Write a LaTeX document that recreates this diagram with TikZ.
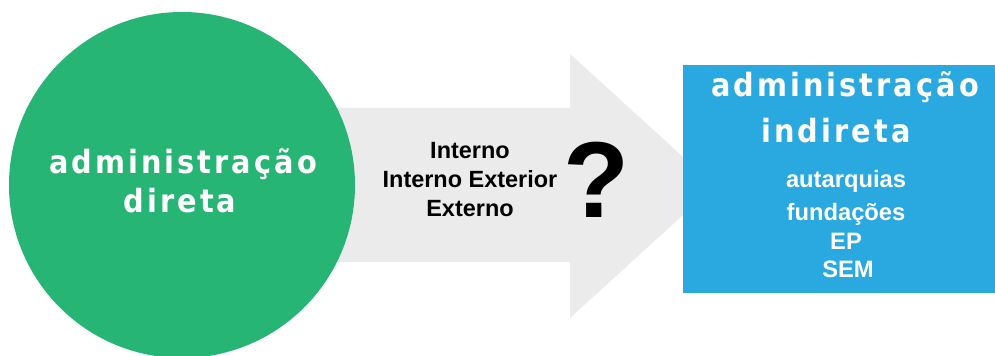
\documentclass[tikz,border=0pt]{standalone}
\usepackage{fontspec}
\setmainfont{Liberation Sans}
\newfontfamily\titlefont[FakeStretch=0.9,LetterSpace=9.5]{DejaVu Sans Bold}
\definecolor{cgreen}{HTML}{26B574}
\definecolor{cblue}{HTML}{2AA8E0}
\definecolor{cgray}{HTML}{EBEBEB}
\begin{document}
\begin{tikzpicture}[x=0.75pt,y=-0.75pt,
  title/.style={text=white,inner sep=0,anchor=base,font=\titlefont\fontsize{24}{26}\selectfont},
  mid/.style={text=black,inner sep=0,anchor=base,font=\bfseries\fontsize{17.6}{21}\selectfont},
  item/.style={text=white,inner sep=0,anchor=base,font=\bfseries\fontsize{17.8}{21}\selectfont}]
\useasboundingbox (0,0) rectangle (995,356);
% arrow
\fill[cgray] (330,108) -- (570,108) -- (570,54) -- (715,186) -- (570,318) -- (570,262) -- (330,262) -- cycle;
% circle
\node[circle,fill=cgreen,minimum size=259.5pt,inner sep=0] (circ) at (182,185) {};
\node[title] (t1) at (183,173) {administração};
\node[title] (t2) at (180,212) {direta};
% box
\node[fill=cblue,anchor=north west,minimum width=234.8pt,minimum height=171pt,inner sep=0] (box) at (683,65) {};
\node[title] (r1) at (845,97) {administração};
\node[title] (r2) at (836,143) {indireta};
\node[item] (i1) at (846,187) {autarquias};
\node[item] (i2) at (846,220) {fundações};
\node[item] (i3) at (846,249) {EP};
\node[item] (i4) at (848,277) {SEM};
% middle text
\node[mid] (m1) at (470,158) {Interno};
\node[mid] (m2) at (470,187) {Interno Exterior};
\node[mid] (m3) at (470,216) {Externo};
\node[inner sep=0,anchor=base,font=\bfseries\fontsize{81}{84}\selectfont] (q) at (596,217) {?};
\end{tikzpicture}
\end{document}
